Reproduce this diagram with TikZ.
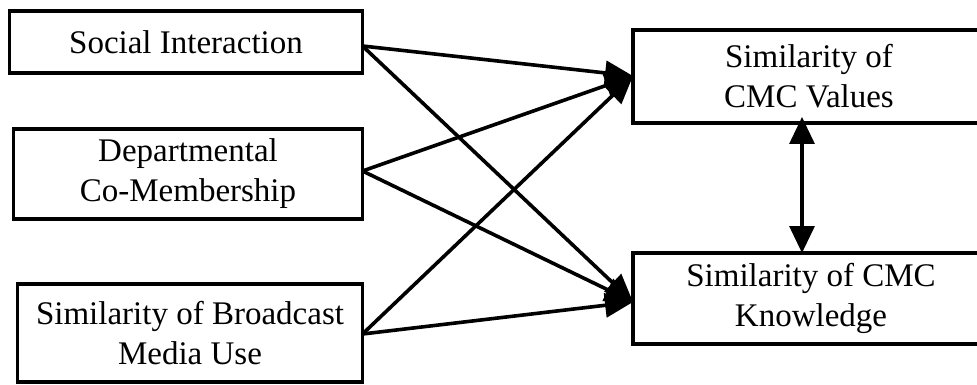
\documentclass[tikz,border=0pt]{standalone}
\usepackage{fontspec}
\setmainfont{Liberation Serif}
\usetikzlibrary{arrows.meta}
\begin{document}
\begin{tikzpicture}[x=1pt,y=-1pt,
  box/.style={draw, line width=3.4pt, inner sep=0pt, outer sep=0pt, align=center,
    font=\fontsize{33}{40}\selectfont},
  arr/.style={line width=3.6pt, -{Triangle[length=28pt,width=24pt]}},
  dbl/.style={line width=3.2pt, {Triangle[length=27pt,width=25pt]}-{Triangle[length=27pt,width=25pt]}}]
\useasboundingbox (0,0) rectangle (977,385);
\clip (0,0) rectangle (977,385);
\fill[white] (0,0) rectangle (977,385);
\node[box, minimum width=353pt, minimum height=62pt] (si) at (186,42) {Social Interaction};
\node[box, minimum width=349pt, minimum height=90pt] (dc) at (188,174) {Departmental\\Co-Membership};
\node[box, minimum width=345pt, minimum height=98pt] (bm) at (190,333) {Similarity of Broadcast\\Media Use};
\node[box, minimum width=352pt, minimum height=93pt] (cv) at (809,76.5) {Similarity of\\CMC Values};
\node[box, minimum width=356pt, minimum height=91pt] (ck) at (811,298.5) {Similarity of CMC\\Knowledge};
\coordinate (s1) at ([yshift=-4pt]si.east);
\coordinate (s2) at ([yshift=3pt]dc.east);
\coordinate (s3) at ([yshift=-1pt]bm.east);
\coordinate (t1) at ([yshift=0.5pt]cv.west);
\coordinate (t2) at ([yshift=-3.5pt]ck.west);
\draw[arr] (s1) -- (t1);
\draw[arr] (s1) -- (t2);
\draw[arr] (s2) -- (t1);
\draw[arr] (s2) -- (t2);
\draw[arr] (s3) -- (t1);
\draw[arr] (s3) -- (t2);
\draw[dbl] ([xshift=-7pt,yshift=6pt]cv.south) -- ([xshift=-9pt]ck.north);
\end{tikzpicture}
\end{document}
